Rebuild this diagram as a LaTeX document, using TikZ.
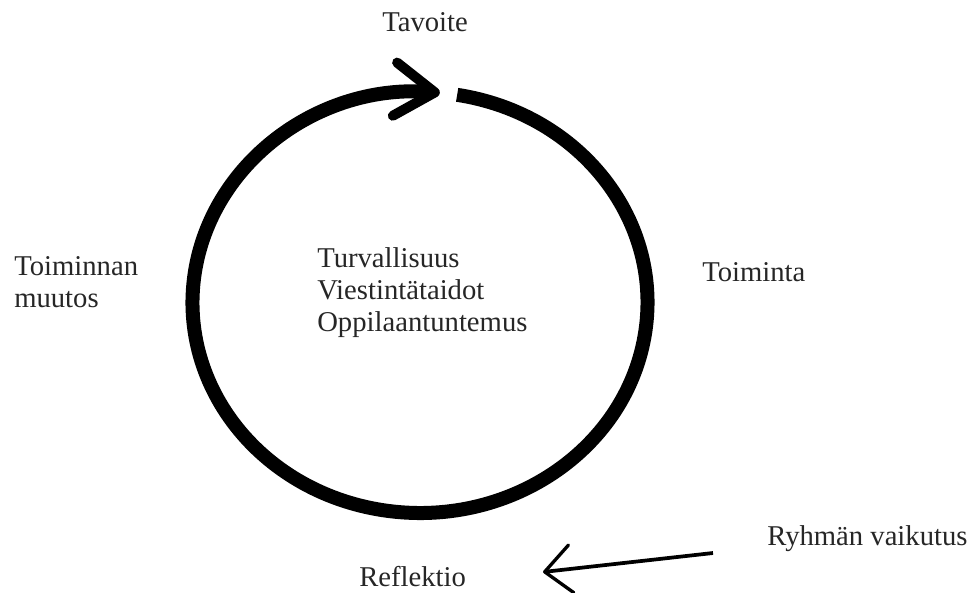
\documentclass[tikz,border=0pt]{standalone}
\usepackage{fontspec}
\setmainfont{Liberation Serif}
\usetikzlibrary{arrows.meta}

\begin{document}
\begin{tikzpicture}[x=0.75pt,y=-0.75pt,
  lbl/.style={font=\fontsize{21.5}{24}\selectfont, text=black!85, inner sep=0pt, anchor=base west, align=left},
  loopline/.style={line width=10.5pt, -{Straight Barb[length=30pt,width=40pt,line width=7.5pt,round]}},
  influence/.style={line width=2.8pt, -{Straight Barb[length=20pt,width=36pt,line width=2.5pt,round]}}]

\useasboundingbox (0,0) rectangle (973,592);

% the cycle
\coordinate (mid) at (420,302.5);
\draw[loopline] (mid) ++(-80.6:227.5 and 210.5) arc[start angle=-80.6, end angle=275, x radius=227.5, y radius=210.5];

% phases of the cycle
\node[lbl] (tavoite) at (382,32) {Tavoite};
\node[lbl] (toiminta) at (702,281) {Toiminta};
\node[lbl] (reflektio) at (359,586) {Reflektio};
\node[lbl] (muutos) at (14,307) {Toiminnan\\muutos}; % base = last line

% inside the cycle
\node[lbl] (ydin) at (317,331) {Turvallisuus\\Viestintätaidot\\Oppilaantuntemus};

% group influence
\node[lbl] (ryhma) at (767,545) {Ryhmän vaikutus};
\coordinate (r0) at (713,553);
\coordinate (r1) at (543,572);
\draw[influence] (r0) -- (r1);

\end{tikzpicture}
\end{document}
